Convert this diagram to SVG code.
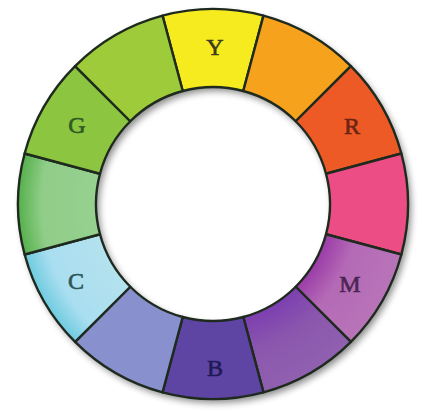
<svg xmlns="http://www.w3.org/2000/svg" width="426" height="411" viewBox="0 0 426 411">
  <style>
    .seg { stroke: #1f2a1f; stroke-width: 2.4; stroke-linejoin: round; }
    .lbl { font-family: "Liberation Serif", "DejaVu Serif", serif; font-size: 24px; text-anchor: middle; stroke-width: 0.6px; }
  </style>
  <defs>
    <filter id="blur" x="-20%" y="-20%" width="140%" height="140%">
      <feGaussianBlur stdDeviation="3.5"/>
    </filter>
    <radialGradient id="gM" cx="213" cy="204" r="195" gradientUnits="userSpaceOnUse">
      <stop offset="0.6" stop-color="#9b3ca8"/>
      <stop offset="0.75" stop-color="#b46ab6"/>
      <stop offset="1" stop-color="#b874b8"/>
    </radialGradient>
    <radialGradient id="gP" cx="213" cy="204" r="195" gradientUnits="userSpaceOnUse">
      <stop offset="0.6" stop-color="#7d3fb0"/>
      <stop offset="0.78" stop-color="#8b57ae"/>
      <stop offset="1" stop-color="#9060b0"/>
    </radialGradient>
    <radialGradient id="gLG" cx="213" cy="204" r="195" gradientUnits="userSpaceOnUse">
      <stop offset="0.6" stop-color="#96d190"/>
      <stop offset="0.88" stop-color="#90cd88"/>
      <stop offset="1" stop-color="#55b04c"/>
    </radialGradient>
    <radialGradient id="gC" cx="213" cy="204" r="195" gradientUnits="userSpaceOnUse">
      <stop offset="0.6" stop-color="#b4e2ee"/>
      <stop offset="0.88" stop-color="#a9def0"/>
      <stop offset="1" stop-color="#6fcbe0"/>
    </radialGradient>
  </defs>

  <path d="M 18,204 a195,195 0 1,0 390,0 a195,195 0 1,0 -390,0 Z M 96,204 a117,117 0 1,0 234,0 a117,117 0 1,0 -234,0 Z" fill-rule="evenodd" fill="#000" opacity="0.45" transform="translate(3,4)" filter="url(#blur)"/>

  <g id="seg-Y">
    <path class="seg" fill="#f6eb1f" d="M 162.53,15.64 A 195,195 0 0 1 263.47,15.64 L 243.28,90.99 A 117,117 0 0 0 182.72,90.99 Z"/>
    <text class="lbl" x="215" y="55" fill="#3f3c1a" stroke="#3f3c1a">Y</text>
  </g>
  <g id="seg-orange">
    <path class="seg" fill="#f7a21c" d="M 263.47,15.64 A 195,195 0 0 1 350.89,66.11 L 295.73,121.27 A 117,117 0 0 0 243.28,90.99 Z"/>
  </g>
  <g id="seg-R">
    <path class="seg" fill="#ee5a25" d="M 350.89,66.11 A 195,195 0 0 1 401.36,153.53 L 326.01,173.72 A 117,117 0 0 0 295.73,121.27 Z"/>
    <text class="lbl" x="352" y="134" fill="#6a2414" stroke="#6a2414">R</text>
  </g>
  <g id="seg-pink">
    <path class="seg" fill="#ec4d85" d="M 401.36,153.53 A 195,195 0 0 1 401.36,254.47 L 326.01,234.28 A 117,117 0 0 0 326.01,173.72 Z"/>
  </g>
  <g id="seg-M">
    <path class="seg" fill="url(#gM)" d="M 401.36,254.47 A 195,195 0 0 1 350.89,341.89 L 295.73,286.73 A 117,117 0 0 0 326.01,234.28 Z"/>
    <text class="lbl" x="350" y="292" fill="#4a2552" stroke="#4a2552">M</text>
  </g>
  <g id="seg-purple">
    <path class="seg" fill="url(#gP)" d="M 350.89,341.89 A 195,195 0 0 1 263.47,392.36 L 243.28,317.01 A 117,117 0 0 0 295.73,286.73 Z"/>
  </g>
  <g id="seg-B">
    <path class="seg" fill="#5e45a4" d="M 263.47,392.36 A 195,195 0 0 1 162.53,392.36 L 182.72,317.01 A 117,117 0 0 0 243.28,317.01 Z"/>
    <text class="lbl" x="215" y="376" fill="#1e1a55" stroke="#1e1a55">B</text>
  </g>
  <g id="seg-periwinkle">
    <path class="seg" fill="#8890cd" d="M 162.53,392.36 A 195,195 0 0 1 75.11,341.89 L 130.27,286.73 A 117,117 0 0 0 182.72,317.01 Z"/>
  </g>
  <g id="seg-C">
    <path class="seg" fill="url(#gC)" d="M 75.11,341.89 A 195,195 0 0 1 24.64,254.47 L 99.99,234.28 A 117,117 0 0 0 130.27,286.73 Z"/>
    <text class="lbl" x="76" y="289" fill="#2c5558" stroke="#2c5558">C</text>
  </g>
  <g id="seg-lightgreen">
    <path class="seg" fill="url(#gLG)" d="M 24.64,254.47 A 195,195 0 0 1 24.64,153.53 L 99.99,173.72 A 117,117 0 0 0 99.99,234.28 Z"/>
  </g>
  <g id="seg-G">
    <path class="seg" fill="#8cc640" d="M 24.64,153.53 A 195,195 0 0 1 75.11,66.11 L 130.27,121.27 A 117,117 0 0 0 99.99,173.72 Z"/>
    <text class="lbl" x="77" y="133" fill="#2f5a22" stroke="#2f5a22">G</text>
  </g>
  <g id="seg-yellowgreen">
    <path class="seg" fill="#9ecb3a" d="M 75.11,66.11 A 195,195 0 0 1 162.53,15.64 L 182.72,90.99 A 117,117 0 0 0 130.27,121.27 Z"/>
  </g>
</svg>
